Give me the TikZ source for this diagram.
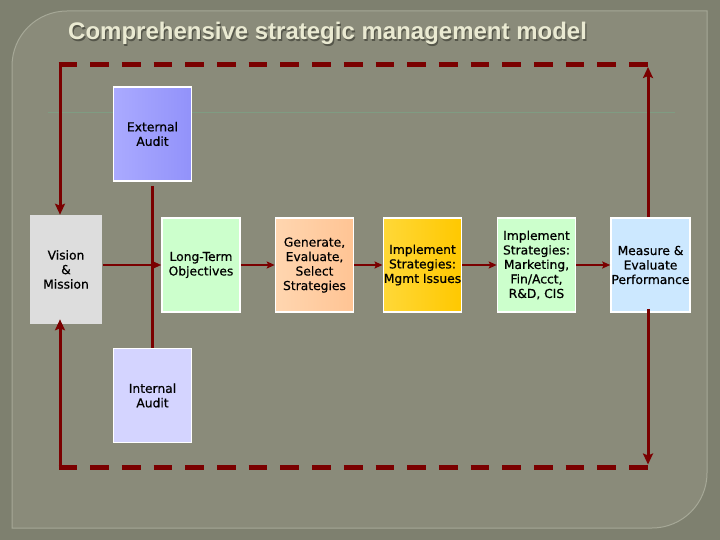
\documentclass[tikz,border=0pt]{standalone}
\usepackage{fontspec}
\setmainfont{DejaVu Sans}[FakeBold=0.6]
\newfontfamily\boxface{DejaVu Sans}[FakeBold=0.6]
\newfontfamily\titlefont{Liberation Sans Bold}
\usetikzlibrary{arrows.meta}
\definecolor{bgout}{HTML}{7E806F}
\definecolor{panel}{HTML}{8A8B7A}
\definecolor{panelline}{HTML}{A6A897}
\definecolor{maroon}{HTML}{7A0000}
\definecolor{titlecol}{HTML}{EAEAD2}
\definecolor{titleshadow}{HTML}{55564A}
\definecolor{greenline}{HTML}{7F9C82}
\newcommand\boxfont{\boxface\fontsize{12.3}{14.5}\selectfont}
\tikzset{
  box/.style={draw=white, line width=1.6pt, minimum width=78pt, minimum height=94pt,
    align=center, font=\boxfont, inner sep=0.5pt, text=black},
  flow/.style={draw=maroon, line width=2.2pt, -{Stealth[length=8pt,width=7pt,inset=1.5pt]}},
  fbsolid/.style={draw=maroon, line width=3pt},
  fbarrow/.style={fbsolid, -{Stealth[length=11pt,width=10pt,inset=2pt]}},
  fbdash/.style={draw=maroon, line width=5pt, dash pattern=on 18.7pt off 13pt}
}
\begin{document}
\begin{tikzpicture}[x=1pt,y=-1pt]
\useasboundingbox (0,0) rectangle (720,540);
\fill[bgout] (0,0) rectangle (720,540);
\draw[fill=panel, draw=panelline, line width=1pt]
  (12,528) -- (12,66) .. controls (12,35.6) and (36.6,11) .. (67,11)
  -- (707,11) -- (707,473) .. controls (707,503.4) and (682.4,528) .. (652,528)
  -- cycle;
% title
\node[anchor=base west, font=\titlefont\fontsize{24}{28}\selectfont, text=titleshadow, inner sep=0pt]
  at (69.2,41.2) {Comprehensive strategic management model};
\node[anchor=base west, font=\titlefont\fontsize{24}{28}\selectfont, text=titlecol, inner sep=0pt]
  (title) at (68,40) {Comprehensive strategic management model};
% faint template line
\draw[greenline, line width=0.8pt] (48,112) -- (675,112);
% nodes
\node[box, shading angle=0, left color={rgb,255:red,170;green,170;blue,255}, right color={rgb,255:red,146;green,146;blue,250}] (ext) at (152.5,134) {External\\Audit};
\node[box, draw=none, fill={rgb,255:red,221;green,221;blue,221}, minimum width=72pt, minimum height=108pt] (vm) at (66,269.5) {Vision\\\&\\Mission};
\node[box, fill={rgb,255:red,204;green,255;blue,204}] (lt) at (201,265) {Long-Term\\Objectives};
\node[box, fill={rgb,255:red,212;green,212;blue,255}] (int) at (152.5,395.5) {Internal\\Audit};
\node[box, left color={rgb,255:red,255;green,214;blue,176}, right color={rgb,255:red,255;green,196;blue,148}] (gen) at (314.5,265) {Generate,\\Evaluate,\\Select\\Strategies};
\node[box, left color={rgb,255:red,255;green,216;blue,56}, right color={rgb,255:red,255;green,200;blue,0}] (mgmt) at (422.5,265) {Implement\\Strategies:\\Mgmt Issues};
\node[box, fill={rgb,255:red,204;green,255;blue,204}] (mkt) at (536.5,265) {Implement\\Strategies:\\Marketing,\\Fin/Acct,\\R\&D, CIS};
\node[box, fill={rgb,255:red,204;green,232;blue,255}] (meas) at (650.5,265) {Measure \&\\Evaluate\\Performance};
% connectors in the main row
\draw[maroon, line width=2.2pt] ([yshift=-4pt]ext.south) -- (int.north);
\draw[flow] (vm.east |- lt.west) -- (lt.west);
\draw[flow] (lt.east) -- (gen.west);
\draw[flow] (gen.east) -- (mgmt.west);
\draw[flow] (mgmt.east) -- (mkt.west);
\draw[flow] (mkt.east) -- (meas.west);
% feedback loop
\coordinate (tl) at (60,65);
\coordinate (tr) at (648,65);
\coordinate (bl) at (60,467);
\coordinate (br) at (648,467);
\draw[fbdash] (58.5,65) -- (647.5,65);
\draw[fbdash] (58.5,467) -- (647.5,467);
\draw[fbarrow] ([yshift=-2pt]tl) -- (tl |- vm.north);
\draw[fbarrow] ([yshift=2pt]bl) -- ([yshift=5pt]bl |- vm.south);
\draw[fbarrow] (meas.north -| tr) -- ([yshift=-2pt]tr);
\draw[fbarrow] ([yshift=4pt]meas.south -| br) -- ([yshift=2.5pt]br);
\end{tikzpicture}
\end{document}
